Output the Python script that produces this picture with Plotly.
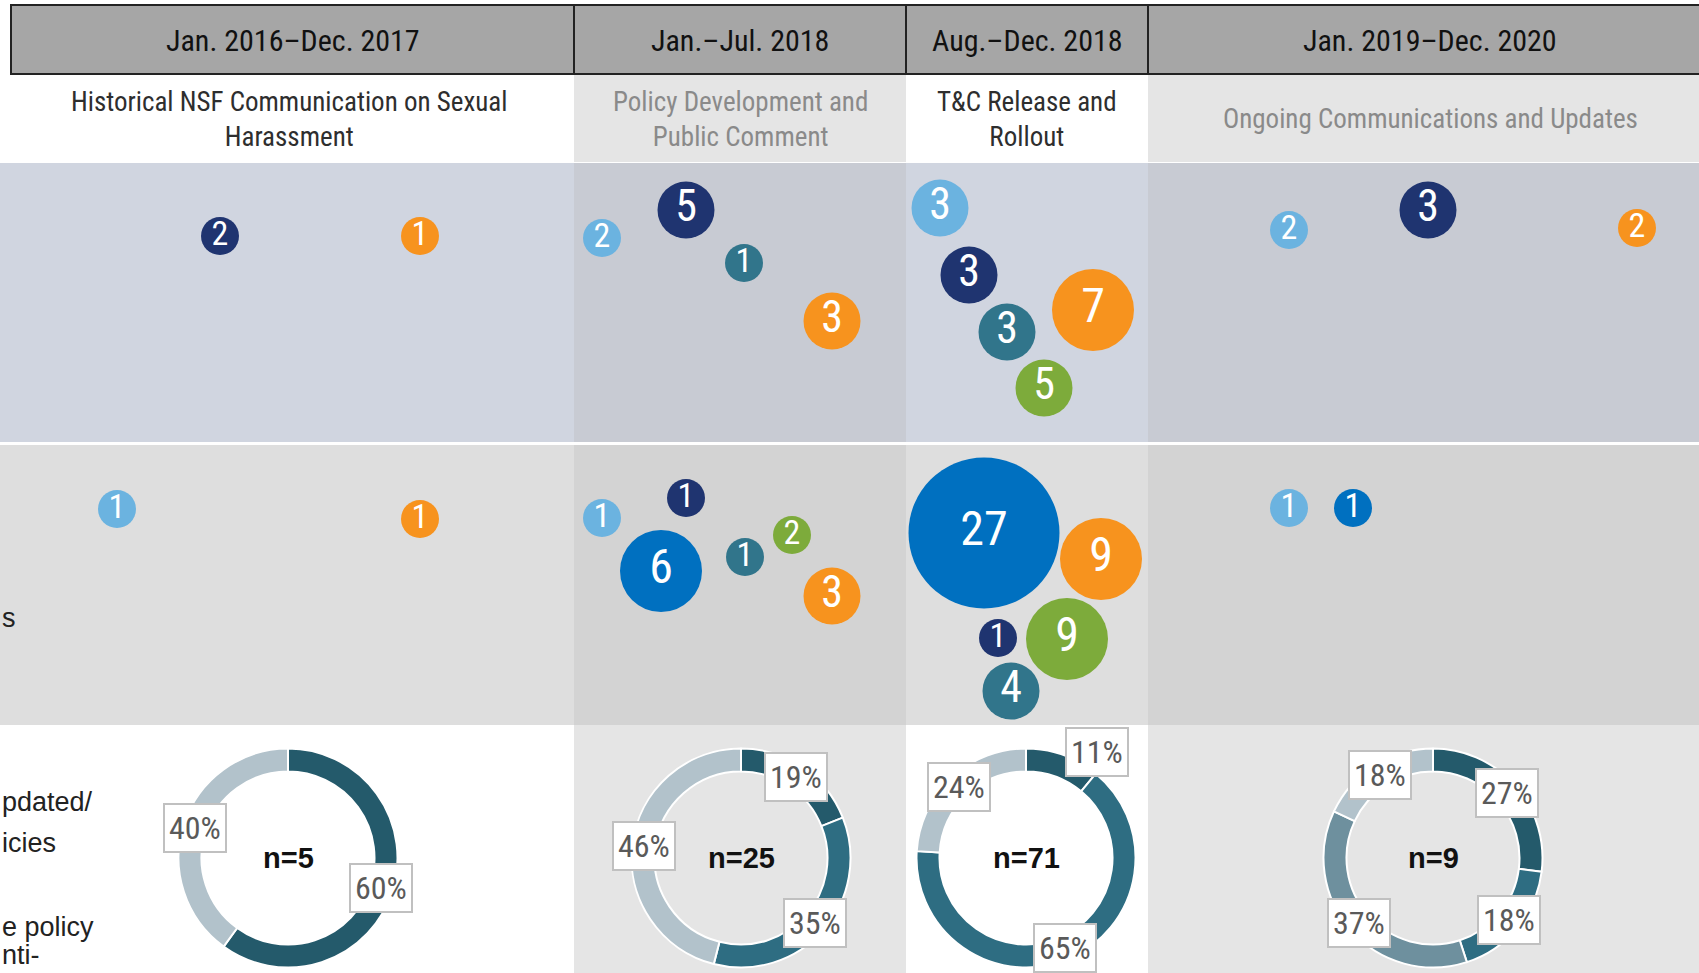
import math
import plotly.graph_objects as go

W, H = 1699, 973

# ---------------- data ----------------
periods = ["Jan. 2016\u2013Dec. 2017", "Jan.\u2013Jul. 2018", "Aug.\u2013Dec. 2018", "Jan. 2019\u2013Dec. 2020"]
phases = ["Historical NSF Communication on Sexual<br>Harassment",
          "Policy Development and<br>Public Comment",
          "T&C Release and<br>Rollout",
          "Ongoing Communications and Updates"]
phase_dark = [True, False, True, False]

# bubble series: type key, value, packed-layout position
bubble_type = ["navy", "orange", "lightblue", "navy", "teal", "orange",
               "lightblue", "navy", "teal", "orange", "green",
               "lightblue", "navy", "orange",
               "lightblue", "orange", "lightblue", "navy", "blue", "teal", "green", "orange",
               "blue", "orange", "navy", "green", "teal",
               "lightblue", "blue"]
bubble_value = [2, 1, 2, 5, 1, 3,
                3, 3, 3, 7, 5,
                2, 3, 2,
                1, 1, 1, 1, 6, 1, 2, 3,
                27, 9, 1, 9, 4,
                1, 1]
bubble_x = [220, 420, 602, 686, 744, 832,
            940, 969, 1007, 1093, 1044,
            1289, 1428, 1637,
            117, 420, 602, 686, 661, 745, 792, 832,
            984, 1101, 998, 1067, 1011,
            1289, 1353]
bubble_y = [236, 236, 238, 210, 263, 321,
            208, 275, 332, 310, 388,
            230, 210, 228,
            509, 519, 518, 498, 571, 557, 535, 596,
            533, 559, 638, 639, 691,
            508, 508]

# donut data per period (percent)
donut_n = [5, 25, 71, 9]
donut_cats = [["dark", "light"],
              ["dark", "teal", "light"],
              ["dark", "teal", "light"],
              ["dark", "teal", "steel", "light"]]
donut_pct = [[60, 40],
             [19, 35, 46],
             [11, 65, 24],
             [27, 18, 37, 18]]

# partially visible row labels at the left edge
side_labels = ["s", "pdated/", "icies", "e policy", "nti-"]

# ---------------- style ----------------
NARROW = "'Liberation Sans Narrow', 'Arial Narrow', 'Roboto Condensed', 'DejaVu Sans Condensed', 'Liberation Sans', sans-serif"
ARIAL = "'Liberation Sans', Arial, sans-serif"

bubble_colors = {"navy": "#1f3470", "orange": "#f7931e", "lightblue": "#6bb3e0",
                 "teal": "#31758b", "green": "#7dab3b", "blue": "#0070c0"}
donut_colors = {"dark": "#245a6b", "teal": "#2e6d82", "steel": "#6e909e", "light": "#b2c2cb"}

col_edges = [0, 574, 906, 1148, 1712]
donut_cx = [288, 741, 1026, 1433]
header_left = 11
Y_HEAD = (5, 74)
Y_SUB = (74, 162)
Y_R1 = (163, 442)
Y_R2 = (445, 725)
Y_R3 = (725, 990)
sub_bg = ["#ffffff", "#e5e5e5", "#ffffff", "#e5e5e5"]
r1_bg = ["#d0d5e0", "#c8cbd3", "#d0d5e0", "#c8cbd3"]
r2_bg = ["#dedede", "#d3d3d3", "#dedede", "#d3d3d3"]
r3_bg = ["#ffffff", "#e5e5e5", "#ffffff", "#e5e5e5"]
side_label_y = [618, 802, 843, 927, 972]
side_label_anchor = ["middle", "middle", "middle", "middle", "bottom"]

DONUT_CY = 858
DONUT_R = 109.5
HOLE = 0.79


def diam(v):
    if v <= 2:
        return 38
    if v <= 5:
        return 57
    if v <= 9:
        return 82
    return 151


def fsize(v):
    if v <= 2:
        return 34
    if v <= 5:
        return 44
    return 48


fig = go.Figure()
shapes = []
annotations = []

# backgrounds
for i in range(4):
    x0, x1 = col_edges[i], col_edges[i + 1]
    sx0 = -10 if i == 0 else x0
    for (y0, y1), col in [(Y_SUB, sub_bg[i]), (Y_R1, r1_bg[i]), (Y_R2, r2_bg[i]), (Y_R3, r3_bg[i])]:
        shapes.append(dict(type="rect", xref="x", yref="y", x0=sx0, x1=x1, y0=y0, y1=y1,
                           fillcolor=col, line=dict(width=0), layer="below"))
    hx0 = header_left if i == 0 else x0
    shapes.append(dict(type="rect", xref="x", yref="y", x0=hx0, x1=x1, y0=Y_HEAD[0], y1=Y_HEAD[1],
                       fillcolor="#a6a6a6", line=dict(color="#222222", width=2), layer="below"))
    cx = (hx0 + x1) / 2
    annotations.append(dict(x=cx, y=(Y_HEAD[0] + Y_HEAD[1]) / 2 + 1, xref="x", yref="y",
                            text=periods[i], showarrow=False,
                            font=dict(family=NARROW, size=30, color="#111111")))
    annotations.append(dict(x=cx - (4 if i == 0 else 0), y=(Y_SUB[0] + Y_SUB[1]) / 2 + 1, xref="x", yref="y",
                            text=phases[i], showarrow=False,
                            font=dict(family=NARROW, size=27,
                                      color="#2e2e2e" if phase_dark[i] else "#8a8a8a")))

# bubbles, one trace per type
for key, color in bubble_colors.items():
    idx = [k for k, t in enumerate(bubble_type) if t == key]
    if not idx:
        continue
    vals = [bubble_value[k] for k in idx]
    fig.add_trace(go.Scatter(
        x=[bubble_x[k] for k in idx], y=[bubble_y[k] for k in idx],
        mode="markers+text", text=[str(v) for v in vals], textposition="middle center",
        textfont=dict(family=NARROW, color="white", size=[fsize(v) for v in vals]),
        marker=dict(size=[diam(v) for v in vals], color=color, line=dict(width=0), opacity=1),
        name=key, showlegend=False, hoverinfo="text", cliponaxis=False))

# donuts
for i in range(4):
    cx = donut_cx[i]
    fig.add_trace(go.Pie(
        values=donut_pct[i], labels=donut_cats[i], sort=False, direction="clockwise", rotation=0,
        hole=HOLE, textinfo="none", hoverinfo="label+percent", showlegend=False,
        marker=dict(colors=[donut_colors[c] for c in donut_cats[i]], line=dict(color="white", width=2)),
        domain=dict(x=[(cx - DONUT_R) / W, (cx + DONUT_R) / W],
                    y=[1 - (DONUT_CY + DONUT_R) / H, 1 - (DONUT_CY - DONUT_R) / H])))
    annotations.append(dict(x=cx, y=DONUT_CY, xref="x", yref="y", text="<b>n=%d</b>" % donut_n[i],
                            showarrow=False, font=dict(family=ARIAL, size=29, color="#111111")))
    total = sum(donut_pct[i])
    cum = 0
    rm = DONUT_R * (1 + HOLE) / 2
    for v in donut_pct[i]:
        th = 2 * math.pi * (cum + v / 2) / total
        cum += v
        lx = cx + rm * math.sin(th)
        ly = DONUT_CY - rm * math.cos(th)
        if i == 2 and v == 11:
            lx += 38
            ly -= 14
        annotations.append(dict(x=lx, y=ly, xref="x", yref="y", text="%d%%" % v, showarrow=False,
                                font=dict(family=NARROW, size=32, color="#5a5a5a"),
                                bgcolor="white", bordercolor="#c0c0c0", borderwidth=2, borderpad=4))

# partially visible side labels at the left edge
for txt, yy, ya in zip(side_labels, side_label_y, side_label_anchor):
    annotations.append(dict(x=0, y=yy, xref="x", yref="y", text=txt, showarrow=False, xanchor="left",
                            yanchor=ya, font=dict(family=ARIAL, size=27, color="#222222")))

fig.update_layout(
    width=W, height=H, margin=dict(l=0, r=0, t=0, b=0),
    paper_bgcolor="white", plot_bgcolor="white",
    xaxis=dict(range=[0, W], visible=False, fixedrange=True),
    yaxis=dict(range=[H, 0], visible=False, fixedrange=True),
    shapes=shapes, annotations=annotations,
)

fig.write_html("out.html", config={"displayModeBar": False},
               post_script="document.body.style.margin='0';document.body.style.overflow='hidden';")
